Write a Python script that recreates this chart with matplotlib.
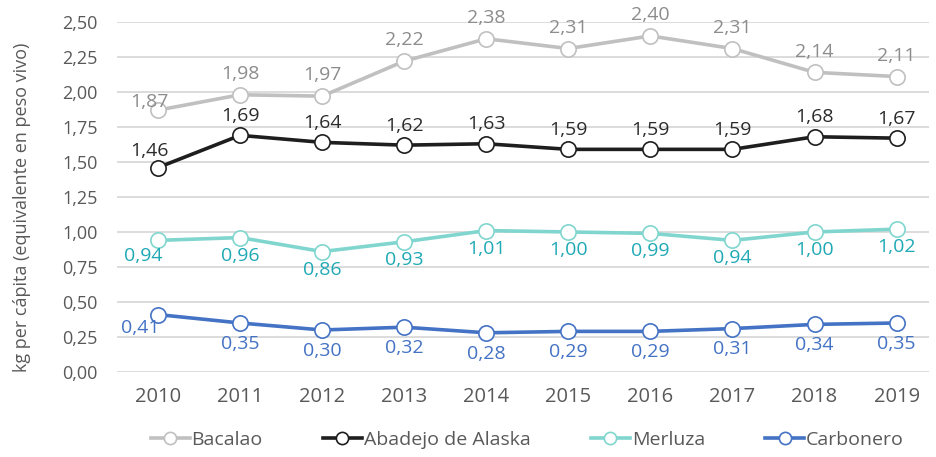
import matplotlib.pyplot as plt

years = ["2010", "2011", "2012", "2013", "2014", "2015", "2016", "2017", "2018", "2019"]
bacalao = [1.87, 1.98, 1.97, 2.22, 2.38, 2.31, 2.40, 2.31, 2.14, 2.11]
abadejo = [1.46, 1.69, 1.64, 1.62, 1.63, 1.59, 1.59, 1.59, 1.68, 1.67]
merluza = [0.94, 0.96, 0.86, 0.93, 1.01, 1.00, 0.99, 0.94, 1.00, 1.02]
carbonero = [0.41, 0.35, 0.30, 0.32, 0.28, 0.29, 0.29, 0.31, 0.34, 0.35]
series_names = ["Bacalao", "Abadejo de Alaska", "Merluza", "Carbonero"]
y_ticks = [0.0, 0.25, 0.5, 0.75, 1.0, 1.25, 1.5, 1.75, 2.0, 2.25, 2.5]

plt.rcParams["font.family"] = ["Open Sans", "DejaVu Sans"]

# line colour, label colour, default label offset (points)
styles = [
    ("#c0c0c0", "#8c8c8c", (0, 15)),
    ("#1e1e1e", "#2b2b2b", (0, 14)),
    ("#80d6cf", "#1fa9b5", (0, -13)),
    ("#4472c4", "#4472c4", (0, -15)),
]
# a few labels Excel had nudged by hand
overrides = {(0, 0): (-6, 6), (1, 0): (-6, 12), (2, 0): (-11, -11), (3, 0): (-13, -10)}

fig = plt.figure(figsize=(9.36, 4.57), dpi=100)
ax = fig.add_axes([0.125, 0.186, 0.868, 0.766])

x = list(range(len(years)))
for si, (vals, name) in enumerate(zip([bacalao, abadejo, merluza, carbonero], series_names)):
    lc, tc, off = styles[si]
    ax.plot(x, vals, color=lc, lw=2.6, marker="o", ms=11, mfc="white",
            mec=lc, mew=1.2, label=name, zorder=3 + si)
    for i, v in enumerate(vals):
        dx, dy = overrides.get((si, i), off)
        ax.annotate(f"{v:.2f}".replace(".", ","), (i, v), xytext=(dx, dy),
                    textcoords="offset points", ha="center", va="center",
                    fontsize=14, color=tc, zorder=10)

ax.set_xlim(-0.5, 9.4)
ax.set_ylim(0, 2.5)
ax.set_xticks(x)
ax.set_xticklabels(years, fontsize=14.5, color="#595959")
ax.set_yticks(y_ticks)
ax.set_yticklabels([f"{t:.2f}".replace(".", ",") for t in y_ticks], fontsize=13, color="#595959")
ax.tick_params(length=0, axis="x", pad=11)
ax.tick_params(length=0, axis="y", pad=14)
ax.grid(axis="y", color="#d9d9d9", lw=1.3)
ax.set_axisbelow(True)
for s in ax.spines.values():
    s.set_visible(False)
ax.set_ylabel("kg per cápita (equivalente en peso vivo)", fontsize=13, color="#595959")
ax.yaxis.set_label_coords(-0.106, 0.47)

ax.legend(loc="center", bbox_to_anchor=(0.505, -0.195), ncol=4, frameon=False,
          fontsize=14, labelcolor="#595959", handlelength=2.0, handletextpad=0.1,
          columnspacing=3.1, markerscale=0.8)

fig.savefig("out.png", dpi=100)
